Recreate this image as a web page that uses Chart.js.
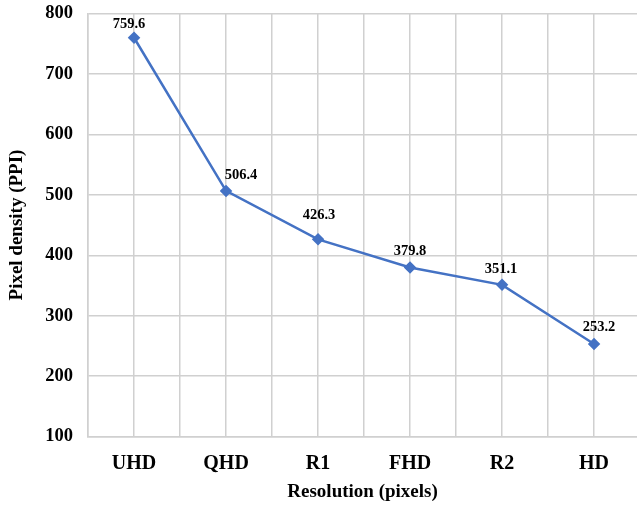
<!DOCTYPE html>
<html>
<head>
<meta charset="utf-8">
<script src="https://cdn.jsdelivr.net/npm/chart.js@4/dist/chart.umd.min.js"></script>
<style>
  html, body { margin: 0; padding: 0; background: #fff; overflow: hidden; }
  #wrap { width: 637px; height: 508px; position: relative; }
  canvas { display: block; }
</style>
</head>
<body>
<div id="wrap"><canvas id="myChart"></canvas></div>
<script>
const categories = ['UHD', 'QHD', 'R1', 'FHD', 'R2', 'HD'];
const ppiValues = [759.6, 506.4, 426.3, 379.8, 351.1, 253.2];
const yTicks = [100, 200, 300, 400, 500, 600, 700, 800];

const serif = "'Liberation Serif', 'Times New Roman', serif";
const lineColor = '#4472C4';
const gridColor = '#d0d0d0';

// label nudges (pixels) so they sit like in the original
const labelDx = [-5, 15, 1, 0, -1, 5];
const labelDy = [14, 16, 24, 16, 16, 17];

// value labels above each point
const valueLabels = {
    id: 'valueLabels',
    afterDatasetsDraw(chart) {
        const ctx = chart.ctx;
        const meta = chart.getDatasetMeta(0);
        ctx.save();
        ctx.font = 'bold 14.5px ' + serif;
        ctx.fillStyle = '#000';
        ctx.textAlign = 'center';
        ctx.textBaseline = 'middle';
        meta.data.forEach(function (pt, i) {
            ctx.fillText(ppiValues[i].toFixed(1), pt.x + labelDx[i], pt.y - labelDy[i]);
        });
        ctx.restore();
    }
};

const ctx = document.getElementById('myChart').getContext('2d');
const myChart = new Chart(ctx, {
    type: 'line',
    data: {
        datasets: [{
            label: 'Pixel density',
            data: ppiValues.map((v, i) => ({ x: i, y: v })),
            borderColor: lineColor,
            backgroundColor: lineColor,
            borderWidth: 2.5,
            pointStyle: 'rectRot',
            pointRadius: 4.5,
            pointHoverRadius: 4.5,
            tension: 0
        }]
    },
    options: {
        responsive: true,
        maintainAspectRatio: false,
        animation: false,
        layout: { autoPadding: false, padding: { top: 2, right: 0, left: 4, bottom: 4.5 } },
        plugins: {
            legend: { display: false },
            tooltip: { enabled: false }
        },
        scales: {
            x: {
                type: 'linear',
                min: -0.5,
                // last category column runs slightly past the right edge, as in the original
                max: categories.length - 0.533,
                afterBuildTicks: function (axis) {
                    const t = [];
                    for (let v = -0.5; v < categories.length - 0.5; v += 0.5) t.push({ value: v });
                    axis.ticks = t;
                },
                ticks: {
                    autoSkip: false,
                    maxRotation: 0,
                    padding: 0,
                    color: '#000',
                    font: { family: serif, size: 20, weight: 'bold' },
                    callback: function (v) {
                        return Number.isInteger(v) ? categories[v] : '';
                    }
                },
                // invisible tick marks used as the gap between axis and labels
                grid: { color: gridColor, lineWidth: 1.5, drawTicks: true, tickLength: 15, tickColor: 'rgba(0,0,0,0)' },
                border: { color: gridColor, width: 1.5 },
                title: {
                    display: true,
                    text: 'Resolution (pixels)',
                    color: '#000',
                    font: { family: serif, size: 19, weight: 'bold' },
                    padding: { top: 5, bottom: 0 }
                }
            },
            y: {
                min: 100,
                max: 800,
                afterBuildTicks: function (axis) {
                    axis.ticks = yTicks.map(v => ({ value: v }));
                },
                ticks: {
                    padding: 0,
                    color: '#000',
                    font: { family: serif, size: 18.5, weight: 'bold', lineHeight: 1.44 }
                },
                grid: { color: gridColor, lineWidth: 1.5, drawTicks: true, tickLength: 15, tickColor: 'rgba(0,0,0,0)' },
                border: { color: gridColor, width: 1.5 },
                title: {
                    display: true,
                    text: 'Pixel density (PPI)',
                    color: '#000',
                    font: { family: serif, size: 19, weight: 'bold' },
                    padding: { top: 1.5, bottom: 17 }
                }
            }
        }
    },
    plugins: [valueLabels]
});
</script>
</body>
</html>
